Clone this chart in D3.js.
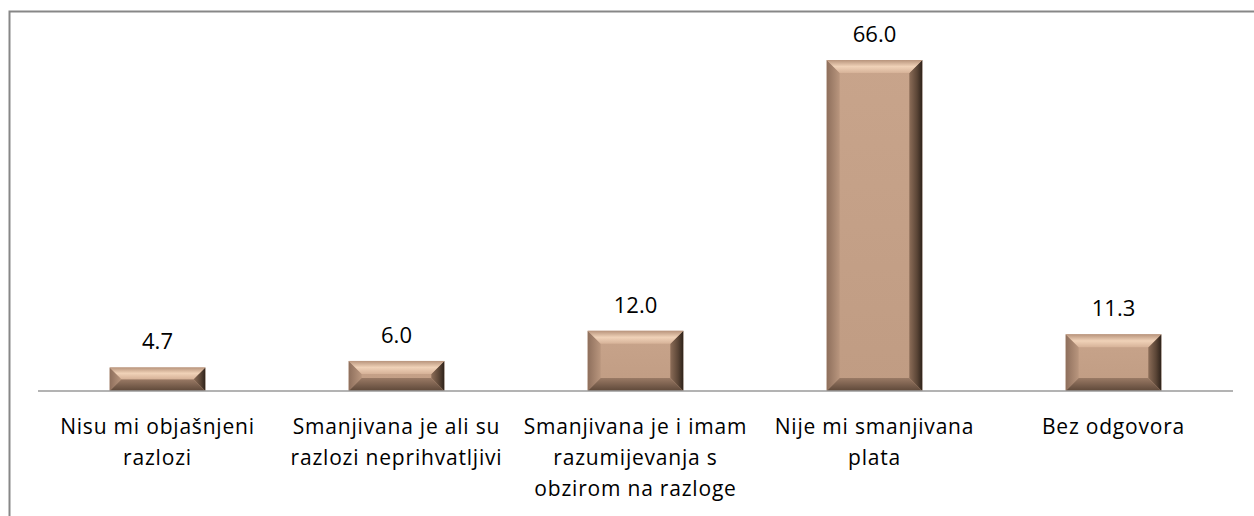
<!DOCTYPE html>
<html>
<head>
<meta charset="utf-8">
<script src="https://cdn.jsdelivr.net/npm/d3@7"></script>
<style>
  html, body { margin: 0; padding: 0; background: #fff; }
  svg { display: block; }
  text { font-family: "Open Sans", Lato, sans-serif; fill: #000; }
</style>
</head>
<body>
<div id="chart"></div>
<script>
const categories = [
  ['Nisu mi objašnjeni', 'razlozi'],
  ['Smanjivana je ali su', 'razlozi neprihvatljivi'],
  ['Smanjivana je i imam', 'razumijevanja s', 'obzirom na razloge'],
  ['Nije mi smanjivana', 'plata'],
  ['Bez odgovora']
];
const values = [4.7, 6.0, 12.0, 66.0, 11.3];

const W = 1254, H = 516;
const plot = { left: 38, right: 1233, top: 40, base: 391 };

const svg = d3.select('#chart').append('svg')
  .attr('width', W)
  .attr('height', H);

const defs = svg.append('defs');
function grad(id, x2, y2, stops) {
  const g = defs.append('linearGradient').attr('id', id)
    .attr('x1', 0).attr('y1', 0).attr('x2', x2).attr('y2', y2);
  stops.forEach(s => g.append('stop').attr('offset', s[0]).attr('stop-color', s[1]));
}
grad('gTop', 0, 1, [[0, '#b8947c'], [0.5, '#f0d2b8'], [1, '#d6b298']]);
grad('gLeft', 1, 0, [[0, '#8e6f5c'], [1, '#b9967e']]);
grad('gRight', 1, 0, [[0, '#8c6d58'], [0.6, '#5a4536'], [1, '#2e221a']]);
grad('gBottom', 0, 1, [[0, '#9a7a65'], [1, '#5e4839']]);
grad('gFace', 0, 1, [[0, '#c8a48b'], [1, '#c09c83']]);

// frame
svg.append('path')
  .attr('d', `M9.5,${H} V11.5 H${W}`)
  .attr('fill', 'none')
  .attr('stroke', '#878787')
  .attr('stroke-width', 2);

const x = d3.scaleBand()
  .domain(d3.range(values.length))
  .range([plot.left, plot.right])
  .paddingInner(0.6)
  .paddingOuter(0.3);

const y = d3.scaleLinear()
  .domain([0, 70])
  .range([plot.base, plot.top]);

const bars = svg.selectAll('.bar')
  .data(values)
  .enter()
  .append('g')
  .attr('class', 'bar');

bars.each(function(d, i) {
  const g = d3.select(this);
  const x0 = x(i), x1 = x(i) + x.bandwidth();
  const y0 = y(d), y1 = y(0);
  const h = y1 - y0;
  const b = Math.min(13, h / 2);
  g.append('rect')
    .attr('x', x0).attr('y', y0)
    .attr('width', x1 - x0).attr('height', h)
    .attr('fill', 'url(#gFace)');
  const pts = p => p.map(q => q.join(',')).join(' ');
  // left
  g.append('polygon').attr('fill', 'url(#gLeft)')
    .attr('points', pts([[x0, y0], [x0 + b, y0 + b], [x0 + b, y1 - b], [x0, y1]]));
  // right
  g.append('polygon').attr('fill', 'url(#gRight)')
    .attr('points', pts([[x1, y0], [x1 - b, y0 + b], [x1 - b, y1 - b], [x1, y1]]));
  // bottom
  g.append('polygon').attr('fill', 'url(#gBottom)')
    .attr('points', pts([[x0, y1], [x0 + b, y1 - b], [x1 - b, y1 - b], [x1, y1]]));
  // top
  g.append('polygon').attr('fill', 'url(#gTop)')
    .attr('points', pts([[x0, y0], [x0 + b, y0 + b], [x1 - b, y0 + b], [x1, y0]]));
});

// value labels
svg.selectAll('.val')
  .data(values)
  .enter()
  .append('text')
  .attr('class', 'val')
  .attr('x', (d, i) => x(i) + x.bandwidth() / 2)
  .attr('y', d => y(d) - 18)
  .attr('text-anchor', 'middle')
  .style('font-size', '22px')
  .text(d => d.toFixed(1));

// axis line
svg.append('line')
  .attr('x1', plot.left).attr('x2', plot.right)
  .attr('y1', plot.base).attr('y2', plot.base)
  .attr('stroke', '#9a9a9a')
  .attr('stroke-width', 1.5);

// category labels
const xc = d3.scaleBand()
  .domain(d3.range(categories.length))
  .range([plot.left, plot.right]);

svg.selectAll('.cat')
  .data(categories)
  .enter()
  .append('text')
  .attr('class', 'cat')
  .attr('x', (d, i) => xc(i) + xc.bandwidth() / 2)
  .attr('y', 434)
  .attr('text-anchor', 'middle')
  .style('font-size', '21px')
  .style('letter-spacing', '0.8px')
  .each(function(lines) {
    const t = d3.select(this);
    lines.forEach((l, k) => {
      t.append('tspan')
        .attr('x', t.attr('x'))
        .attr('dy', k === 0 ? 0 : 31)
        .text(l);
    });
  });
</script>
</body>
</html>
